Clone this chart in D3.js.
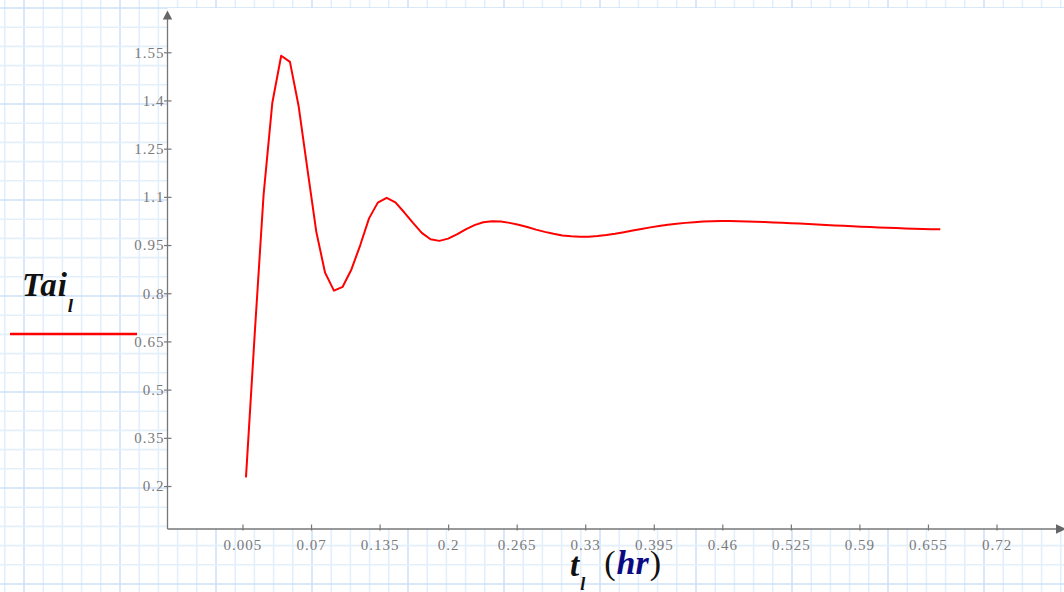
<!DOCTYPE html>
<html>
<head>
<meta charset="utf-8">
<script src="https://cdn.jsdelivr.net/npm/d3@7"></script>
<style>
  html, body { margin: 0; padding: 0; background: #fff; }
  svg { display: block; }
  .tick text { font-family: "Liberation Serif", "Times New Roman", serif; font-size: 15px; letter-spacing: 1px; fill: #7a7a7a; }
</style>
</head>
<body>
<svg id="chart" width="1064" height="592"></svg>
<script>
// time in hours (30 s steps) and the Tai response
const tHours = [0.0083, 0.0167, 0.025, 0.0333, 0.0417, 0.05, 0.0583, 0.0667, 0.075, 0.0833,
  0.0917, 0.1, 0.1083, 0.1167, 0.125, 0.1333, 0.1417, 0.15, 0.1583, 0.1667,
  0.175, 0.1833, 0.1917, 0.2, 0.2083, 0.2167, 0.225, 0.2333, 0.2417, 0.25,
  0.2583, 0.2667, 0.275, 0.2833, 0.2917, 0.3, 0.3083, 0.3167, 0.325, 0.3333,
  0.3417, 0.35, 0.3583, 0.3667, 0.375, 0.3833, 0.3917, 0.4, 0.4083, 0.4167,
  0.425, 0.4333, 0.4417, 0.45, 0.4583, 0.4667, 0.475, 0.4833, 0.4917, 0.5,
  0.5083, 0.5167, 0.525, 0.5333, 0.5417, 0.55, 0.5583, 0.5667, 0.575, 0.5833,
  0.5917, 0.6, 0.6083, 0.6167, 0.625, 0.6333, 0.6417, 0.65, 0.6583, 0.6667];
const tai = [0.227, 0.679, 1.106, 1.393, 1.539, 1.520, 1.381, 1.183, 0.991, 0.864,
  0.808, 0.820, 0.874, 0.950, 1.033, 1.082, 1.097, 1.083, 1.052, 1.019,
  0.988, 0.968, 0.963, 0.970, 0.983, 0.999, 1.012, 1.021, 1.024, 1.023,
  1.019, 1.013, 1.006, 0.998, 0.991, 0.985, 0.980, 0.977, 0.976, 0.976,
  0.978, 0.981, 0.985, 0.990, 0.995, 1.000, 1.005, 1.009, 1.013, 1.016,
  1.019, 1.021, 1.023, 1.024, 1.0245, 1.0245, 1.024, 1.0235, 1.0225, 1.0215,
  1.0205, 1.0193, 1.018, 1.0167, 1.0153, 1.014, 1.0126, 1.0112, 1.0098, 1.0085,
  1.0072, 1.006, 1.0048, 1.0037, 1.0027, 1.0018, 1.001, 1.0002, 0.9995, 0.9988];

const xTicks = [0.005, 0.07, 0.135, 0.2, 0.265, 0.33, 0.395, 0.46, 0.525, 0.59, 0.655, 0.72];
const yTicks = [0.2, 0.35, 0.5, 0.65, 0.8, 0.95, 1.1, 1.25, 1.4, 1.55];
const xLimits = [-0.0663, 0.784];
const yLimits = [0.0662, 1.680];

const W = 1064, H = 592;
const plot = { left: 167.5, top: 8, bottom: 529 };

const svg = d3.select('#chart');

// graph paper background
const bg = svg.append('g');
const step = 19.2;
for (let i = 0; 4.8 + i * step < W; i++) {
  let gx = 4.8 + i * step;
  bg.append('line').attr('x1', gx).attr('x2', gx).attr('y1', 0).attr('y2', H)
    .attr('stroke', (i % 5 == 1) ? '#cfe1f8' : '#e4effc').attr('stroke-width', 1.6);
}
for (let i = 0; 8 + i * step < H; i++) {
  let gy = 8 + i * step;
  bg.append('line').attr('x1', 0).attr('x2', W).attr('y1', gy).attr('y2', gy)
    .attr('stroke', (i % 5 == 0) ? '#cfe1f8' : '#e4effc').attr('stroke-width', 1.6);
}

// white plot area
svg.append('rect').attr('x', plot.left).attr('y', plot.top)
  .attr('width', W - plot.left).attr('height', plot.bottom - plot.top).attr('fill', '#fff');

const x = d3.scaleLinear().domain(xLimits).range([167.3, 1064]);
const y = d3.scaleLinear().domain(yLimits).range([529, 10.5]);

// x axis
const gx = svg.append('g').attr('transform', `translate(0,${plot.bottom})`)
  .call(d3.axisBottom(x).tickValues(xTicks).tickSize(0).tickFormat(d => String(d)));
gx.select('.domain').remove();
gx.selectAll('.tick line').attr('y1', -4.5).attr('y2', 1.5).attr('stroke', '#777').attr('stroke-width', 1.2);
gx.selectAll('.tick text').attr('y', 21).attr('dy', 0);

// y axis
const gy = svg.append('g').attr('transform', `translate(${plot.left},0)`)
  .call(d3.axisLeft(y).tickValues(yTicks).tickSize(0).tickFormat(d => String(d)));
gy.select('.domain').remove();
gy.selectAll('.tick line').attr('x1', -3.5).attr('x2', 4).attr('stroke', '#777').attr('stroke-width', 1.2);
gy.selectAll('.tick text').attr('x', -3).attr('dy', '0.33em');

// axis lines with arrows
svg.append('line').attr('x1', plot.left).attr('x2', 1058).attr('y1', plot.bottom).attr('y2', plot.bottom)
  .attr('stroke', '#777').attr('stroke-width', 1.3);
svg.append('line').attr('x1', plot.left).attr('x2', plot.left).attr('y1', plot.bottom).attr('y2', 16)
  .attr('stroke', '#777').attr('stroke-width', 1.3);
svg.append('path').attr('d', `M${plot.left},10.5 L${plot.left - 4.7},19.5 L${plot.left + 4.7},19.5 Z`).attr('fill', '#666');
svg.append('path').attr('d', `M1066,${plot.bottom} L1056,${plot.bottom - 4.7} L1056,${plot.bottom + 4.7} Z`).attr('fill', '#666');

// the trace
const line = d3.line().x((d, i) => x(tHours[i])).y(d => y(d)).curve(d3.curveLinear);
svg.append('path').datum(tai).attr('d', line)
  .attr('fill', 'none').attr('stroke', '#ff0000').attr('stroke-width', 2).attr('stroke-linejoin', 'round');

// legend
const serif = '"Liberation Serif", "Times New Roman", serif';
const leg = svg.append('text').attr('x', 22).attr('y', 296).attr('font-family', serif)
  .attr('font-style', 'italic').attr('font-weight', 'bold').attr('fill', '#111');
leg.append('tspan').attr('font-size', 33).attr('letter-spacing', 1).text('Tai');
leg.append('tspan').attr('font-size', 19).attr('dx', 0).attr('dy', 16).text('l');
svg.append('line').attr('x1', 10).attr('x2', 137).attr('y1', 334).attr('y2', 334)
  .attr('stroke', '#ff0000').attr('stroke-width', 2.7);

// x axis title
const title = svg.append('text').attr('x', 570).attr('y', 576).attr('font-family', serif).attr('fill', '#111');
title.append('tspan').attr('font-size', 33).attr('font-style', 'italic').attr('font-weight', 'bold').text('t');
title.append('tspan').attr('font-size', 18).attr('font-style', 'italic').attr('font-weight', 'bold')
  .attr('dx', 1).attr('dy', 14).text('l');
title.append('tspan').attr('font-size', 34).attr('dx', 19).attr('dy', -16).text('(');
title.append('tspan').attr('font-size', 34).attr('font-style', 'italic').attr('font-weight', 'bold')
  .attr('fill', '#0a0a85').attr('dx', 1).text('hr');
title.append('tspan').attr('font-size', 34).attr('dx', 1).text(')');
</script>
</body>
</html>
